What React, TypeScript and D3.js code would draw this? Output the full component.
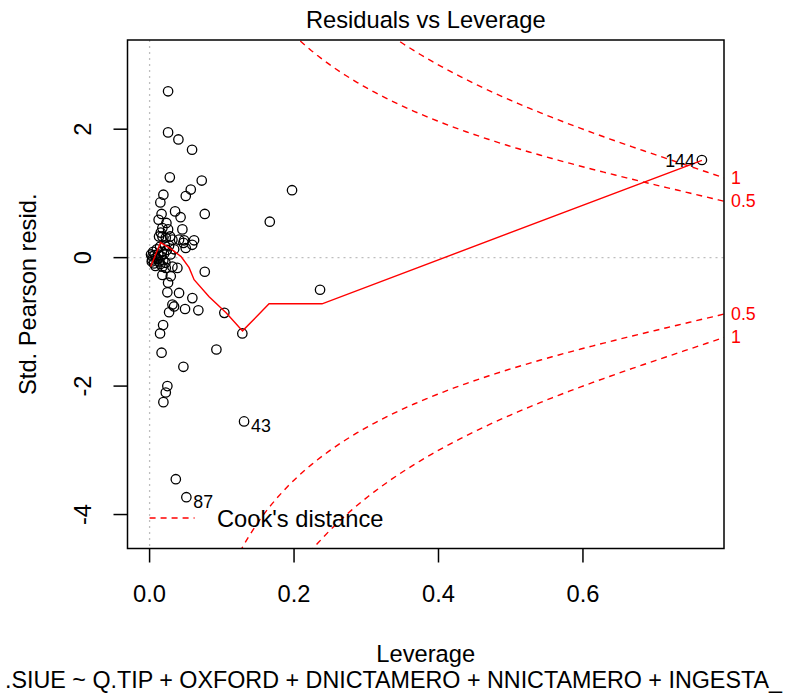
import React from "react";
import * as d3 from "d3";

// ---- data ----
// first three observations are the labelled ones (144, 43, 87)
const leverage = [
  0.7647, 0.1308, 0.0509,
  0.0256, 0.0256, 0.0399, 0.0588, 0.0280, 0.0722, 0.0570, 0.0501, 0.0191, 0.0149,
  0.1972, 0.1664, 0.0764, 0.0353, 0.0429, 0.0166, 0.0125, 0.0454, 0.0233, 0.0177,
  0.0256, 0.0155, 0.0284, 0.0616, 0.0468, 0.0177, 0.0131, 0.0224, 0.0316, 0.0408,
  0.0478, 0.0500, 0.0590,
  0.0764, 0.0256, 0.0408, 0.0246, 0.0592, 0.0316, 0.0339, 0.0491, 0.0675, 0.0270,
  0.1035, 0.0187, 0.0145, 0.1284, 0.0166, 0.0925, 0.0468, 0.0246, 0.0224, 0.0191,
  0.0363, 0.2360,
  0.0177, 0.0224, 0.0316, 0.0385, 0.0177, 0.0293,
  0.0020, 0.0035, 0.0060, 0.0090, 0.0050, 0.0100, 0.0080, 0.0130, 0.0120, 0.0145,
  0.0170, 0.0210, 0.0240, 0.0270, 0.0340, 0.0040, 0.0070, 0.0110, 0.0150, 0.0190,
  0.0030, 0.0160, 0.0200, 0.0220, 0.0290,
];
const stdResid = [
  1.52, -2.55, -3.73,
  2.59, 1.95, 1.84, 1.68, 1.25, 1.20, 1.06, 0.96, 0.98, 0.86,
  1.05, 0.56, 0.68, 0.72, 0.63, 0.68, 0.59, 0.44, 0.54, 0.46,
  0.44, 0.39, 0.33, 0.27, 0.23, 0.33, 0.33, 0.31, 0.28, 0.28,
  0.27, 0.15, 0.20,
  -0.22, -0.39, -0.55, -0.54, -0.63, -0.73, -0.76, -0.80, -0.82, -0.85,
  -0.86, -1.05, -1.18, -1.18, -1.48, -1.43, -1.70, -2.00, -2.10, -2.25,
  -3.45, -0.50,
  -0.14, -0.16, -0.14, -0.16, -0.27, -0.29,
  0.05, -0.03, -0.09, 0.00, 0.09, 0.13, -0.13, -0.06, 0.05, 0.17,
  0.09, 0.19, 0.12, 0.19, 0.13, 0.02, 0.04, -0.02, -0.10, -0.04,
  -0.06, 0.02, 0.06, -0.08, 0.05,
];
const labelText = ["144", "43", "87"];

// lowess smoother (red line)
const smoothLev = [0.0014, 0.0152, 0.0311, 0.0436, 0.0547, 0.0616, 0.0824, 0.1059, 0.1287, 0.1654, 0.2388, 0.7647];
const smoothRes = [-0.14, 0.234, 0.125, 0.016, -0.156, -0.344, -0.609, -0.859, -1.14, -0.719, -0.719, 1.516];

const cookLevels = [0.5, 1];
const nParams = 6;

const xTicks = [0, 0.2, 0.4, 0.6];
const xTickLabels = ["0.0", "0.2", "0.4", "0.6"];
const yTicks = [-4, -2, 0, 2];
const yTickLabels = ["-4", "-2", "0", "2"];

const title = "Residuals vs Leverage";
const xTitle = "Leverage";
const yTitle = "Std. Pearson resid.";
const subCaption = ".SIUE ~ Q.TIP + OXFORD + DNICTAMERO + NNICTAMERO + INGESTA_";
const legendText = "Cook's distance";

// ---- layout ----
const W = 791;
const H = 698;
const L = 127.5;
const R = 724;
const T = 40;
const B = 548.5;
const FONT = "'Liberation Sans', Arial, Helvetica, sans-serif";
const FS = 23.7;
const FS_SUB = 23.3;
const FS_SMALL = 17.8;

function extend(r: [number, number], f: number): [number, number] {
  const d = (r[1] - r[0]) * f;
  return [r[0] - d, r[1] + d];
}

export default function App() {
  const maxLev = d3.max(leverage) as number;
  const minLev = d3.min(leverage) as number;
  const xlim = extend([0, maxLev], 0.04);
  const yr = d3.extent(stdResid) as [number, number];
  const ylim = extend(extend(yr, 0.08), 0.04);

  const x = d3.scaleLinear().domain(xlim).range([L, R]);
  const y = d3.scaleLinear().domain(ylim).range([B, T]);

  const line = d3
    .line<[number, number]>()
    .x((d) => x(d[0]))
    .y((d) => y(d[1]));

  const h0 = Math.min(minLev, maxLev / 100);
  const hh = d3.range(101).map((i) => h0 + ((xlim[1] - h0) * i) / 100);

  const cookPaths: string[] = [];
  cookLevels.forEach((c) => {
    const up = hh.map((h) => [h, Math.sqrt((c * nParams * (1 - h)) / h)] as [number, number]);
    const lo = hh.map((h) => [h, -Math.sqrt((c * nParams * (1 - h)) / h)] as [number, number]);
    cookPaths.push(line(up) as string, line(lo) as string);
  });

  const xmax = Math.min(0.99, xlim[1]);
  const ymult = Math.sqrt((nParams * (1 - xmax)) / xmax);
  const cookAxisVals = [...cookLevels].reverse().map((c) => -Math.sqrt(c) * ymult)
    .concat(cookLevels.map((c) => Math.sqrt(c) * ymult));
  const cookAxisLabels = [...cookLevels].reverse().map(String).concat(cookLevels.map(String));

  const smoothPts = smoothLev.map((v, i) => [v, smoothRes[i]] as [number, number]);
  const midX = (L + R) / 2;
  const midY = (T + B) / 2;
  const xMid = (xlim[0] + xlim[1]) / 2;

  return (
    <svg
      width={W}
      height={H}
      style={{ position: "absolute", left: 0, top: 0, background: "#fff" }}
      fontFamily={FONT}
    >
      <defs>
        <clipPath id="plotClip">
          <rect x={L} y={T} width={R - L} height={B - T} />
        </clipPath>
      </defs>
      <rect x={0} y={0} width={W} height={H} fill="#fff" />

      {/* reference lines */}
      <g clipPath="url(#plotClip)">
        <line x1={L} x2={R} y1={y(0)} y2={y(0)} stroke="#bebebe" strokeWidth={1.3} strokeDasharray="2,4" />
        <line x1={x(0)} x2={x(0)} y1={T} y2={B} stroke="#bebebe" strokeWidth={1.3} strokeDasharray="2,4" />
      </g>

      {/* points */}
      <g clipPath="url(#plotClip)">
        {leverage.map((lv, i) => (
          <circle key={i} cx={x(lv)} cy={y(stdResid[i])} r={4.7} fill="none" stroke="#000" strokeWidth={1.3} />
        ))}
      </g>

      {/* smoother and cook's distance contours */}
      <g clipPath="url(#plotClip)">
        <path d={line(smoothPts) as string} fill="none" stroke="#ff0000" strokeWidth={1.4} />
        {cookPaths.map((d, i) => (
          <path key={i} d={d} fill="none" stroke="#ff0000" strokeWidth={1.4} strokeDasharray="6,5" />
        ))}
      </g>

      {/* id labels */}
      {labelText.map((t, i) => {
        const px = x(leverage[i]);
        const py = y(stdResid[i]);
        const left = leverage[i] > xMid;
        return (
          <text
            key={t}
            x={left ? px - 7 : px + 7}
            y={py + (left ? 1 : 5)}
            textAnchor={left ? "end" : "start"}
            dominantBaseline="central"
            fontSize={FS_SMALL}
            fill="#000"
          >
            {t}
          </text>
        );
      })}

      {/* legend */}
      <line x1={x(0)} x2={x(0) + 45} y1={518} y2={518} stroke="#ff0000" strokeWidth={1.4} strokeDasharray="6,5" />
      <text x={217} y={519} dominantBaseline="central" fontSize={FS} fill="#000">
        {legendText}
      </text>

      {/* box */}
      <rect x={L} y={T} width={R - L} height={B - T} fill="none" stroke="#000" strokeWidth={1.5} />

      {/* x axis */}
      {xTicks.map((v, i) => (
        <g key={i}>
          <line x1={x(v)} x2={x(v)} y1={B} y2={B + 14} stroke="#000" strokeWidth={1.5} />
          <text x={x(v)} y={601.5} textAnchor="middle" fontSize={FS} fill="#000">
            {xTickLabels[i]}
          </text>
        </g>
      ))}

      {/* y axis */}
      {yTicks.map((v, i) => (
        <g key={i}>
          <line x1={L - 14} x2={L} y1={y(v)} y2={y(v)} stroke="#000" strokeWidth={1.5} />
          <text
            transform={`translate(${91},${y(v)}) rotate(-90)`}
            textAnchor="middle"
            fontSize={FS}
            fill="#000"
          >
            {yTickLabels[i]}
          </text>
        </g>
      ))}

      {/* right cook axis labels */}
      {cookAxisVals.map((v, i) => (
        <text
          key={i}
          x={731}
          y={y(v)}
          dominantBaseline="central"
          fontSize={FS_SMALL}
          fill="#ff0000"
        >
          {cookAxisLabels[i]}
        </text>
      ))}

      {/* titles */}
      <text x={midX} y={28} textAnchor="middle" fontSize={FS} fill="#000">
        {title}
      </text>
      <text x={midX} y={662} textAnchor="middle" fontSize={FS} fill="#000">
        {xTitle}
      </text>
      <text x={5} y={688} textAnchor="start" fontSize={FS_SUB} fill="#000">
        {subCaption}
      </text>
      <text
        transform={`translate(${36},${midY}) rotate(-90)`}
        textAnchor="middle"
        fontSize={FS}
        fill="#000"
      >
        {yTitle}
      </text>
    </svg>
  );
}
